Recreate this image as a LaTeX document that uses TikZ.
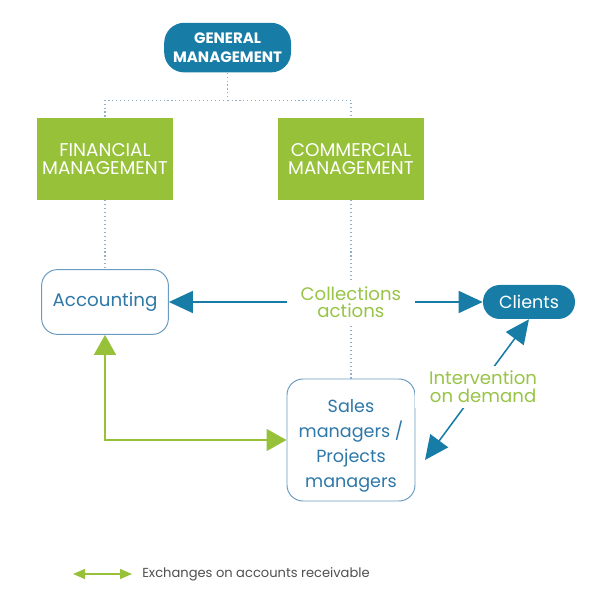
\documentclass[tikz,border=0pt]{standalone}
\usepackage{fontspec}
\setmainfont{Poppins}
\usetikzlibrary{arrows.meta,positioning}
\definecolor{mgtblue}{HTML}{187DA6}
\definecolor{mgtgreen}{HTML}{96C138}
\definecolor{mgtlabel}{HTML}{98C447}
\definecolor{mgttext}{HTML}{2E78A8}
\definecolor{mgtline}{HTML}{6A9CC2}
\definecolor{mgtdot}{HTML}{8FB0CC}
\definecolor{mgtgray}{HTML}{505050}
\tikzset{
  headbox/.style={rectangle, rounded corners=0.5cm, fill=mgtblue, text=white, align=center,
    font=\bfseries\fontsize{10.7}{13}\selectfont, minimum width=3.17cm, minimum height=1.24cm, inner sep=0pt},
  deptbox/.style={rectangle, fill=mgtgreen, text=white, align=center,
    font=\fontsize{13.1}{12.3}\selectfont, minimum height=2.05cm, inner sep=0pt},
  unitbox/.style={rectangle, rounded corners=0.4cm, draw=mgtline, line width=0.7pt, fill=white,
    text=mgttext, align=center, inner sep=0pt},
  flowlabel/.style={fill=white, text=mgtlabel, align=center, inner xsep=10pt, inner ysep=4pt,
    font=\fontsize{12.9}{12.4}\selectfont},
  link/.style={draw=mgtdot, dotted, line width=0.8pt},
  bluearrow/.style={draw=mgtblue, line width=1.1pt,
    {Triangle[length=0.6cm,width=0.55cm]}-{Triangle[length=0.6cm,width=0.55cm]}},
  greenarrow/.style={draw=mgtgreen, line width=1.1pt,
    {Triangle[length=0.5cm,width=0.55cm]}-{Triangle[length=0.5cm,width=0.55cm]}},
  legendarrow/.style={draw=mgtgreen, line width=1.1pt,
    {Triangle[length=0.3cm,width=0.25cm]}-{Triangle[length=0.3cm,width=0.25cm]}}
}
\begin{document}
\begin{tikzpicture}
  \useasboundingbox (0,0) rectangle (15,15);
  \node[headbox] (gen) at (5.69,13.81) {GENERAL\\MANAGEMENT};
  \node[deptbox, minimum width=3.42cm] (fin) at (2.625,11.025) {FINANCIAL\\MANAGEMENT};
  \node[deptbox, minimum width=3.65cm] (com) at (8.775,11.025) {COMMERCIAL\\MANAGEMENT};
  \node[unitbox, minimum width=3.17cm, minimum height=1.62cm, font=\fontsize{13}{15}\selectfont] (acc) at (2.625,7.45) {Accounting};
  \node[headbox, rounded corners=0.42cm, font=\fontsize{12.5}{15}\selectfont, minimum width=2.3cm, minimum height=0.85cm] (cli) at (13.225,7.45) {Clients};
  \node[unitbox, minimum width=3.2cm, minimum height=3.05cm, font=\fontsize{12.5}{17.6}\selectfont] (sal) at (8.775,4.0) {\rule{0pt}{17.5pt}Sales\\managers /\\Projects\\managers};
  \coordinate (sp) at (10.625,3.5);
  \coordinate (la) at (1.825,0.65);
  \coordinate (lb) at (3.3,0.65);
  \node[right=0.25cm of lb, inner sep=0pt, text=mgtgray, font=\fontsize{9.3}{11}\selectfont] (leg) {Exchanges on accounts receivable};

  \draw[link] (gen.south) -- ++(0,-0.69) coordinate (hub) -| (fin.north);
  \draw[link] (hub) -| (com.north);
  \draw[link] (fin) -- (acc);
  \draw[link] (com) -- (sal);
  \draw[bluearrow] (acc) -- node[flowlabel, pos=0.58] (col) {Collections\\actions} (cli);
  \draw[bluearrow] (sp) -- node[flowlabel, pos=0.52, xshift=0.1cm] (int) {Intervention\\on demand} (cli.south);
  \draw[greenarrow] (acc) |- (sal);
  \draw[legendarrow] (la) -- (lb);
\end{tikzpicture}
\end{document}
